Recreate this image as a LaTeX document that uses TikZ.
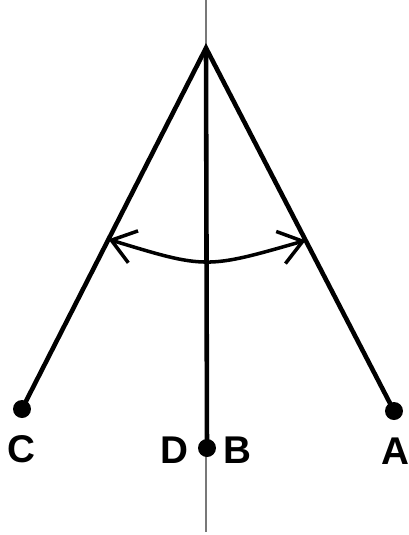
\documentclass[tikz,border=0pt]{standalone}
\usepackage{fontspec}
\setmainfont{Liberation Sans}
\usetikzlibrary{arrows.meta,calc}
\definecolor{gris}{RGB}{120, 120, 120}
\tikzset{punta/.tip={Straight Barb[length=13pt,width=19pt,line width=2pt]}}

\begin{document}
\begin{tikzpicture}[x=0.02cm,y=-0.02cm,
    bob/.style={circle,fill=black,inner sep=0pt,minimum size=0.36cm},
    hilo/.style={line width=2.6pt},
    etiqueta/.style={font=\bfseries\fontsize{22}{22}\selectfont,inner sep=0pt}]
  \useasboundingbox (0,0) rectangle (409,535);
  % vertical de referencia
  \coordinate (arriba) at (206,0);
  \coordinate (abajo) at (206,532);
  \draw[gris,line width=0.8pt] (arriba) -- (abajo);
  % pendulo
  \coordinate (O) at (206,48);
  \node[bob] (C) at (22,409) {};
  \node[bob] (A) at (394,411) {};
  \node[bob] (B) at (207,448) {};
  \draw[hilo,line join=miter] (C.center) -- (O) -- (A.center);
  \draw[hilo] (O) -- (B.center);
  % oscilacion
  \coordinate (izq) at ($(O)!0.53!(C.center)$);
  \coordinate (der) at ($(O)!0.53!(A.center)$);
  \draw[line width=2pt,punta-punta]
    (izq) .. controls (206,269) .. (der);
  \node[etiqueta] (lC) at (21,449) {C};
  \node[etiqueta] (lD) at (174,450) {D};
  \node[etiqueta] (lB) at (237,450) {B};
  \node[etiqueta] (lA) at (395,451) {A};
\end{tikzpicture}
\end{document}
